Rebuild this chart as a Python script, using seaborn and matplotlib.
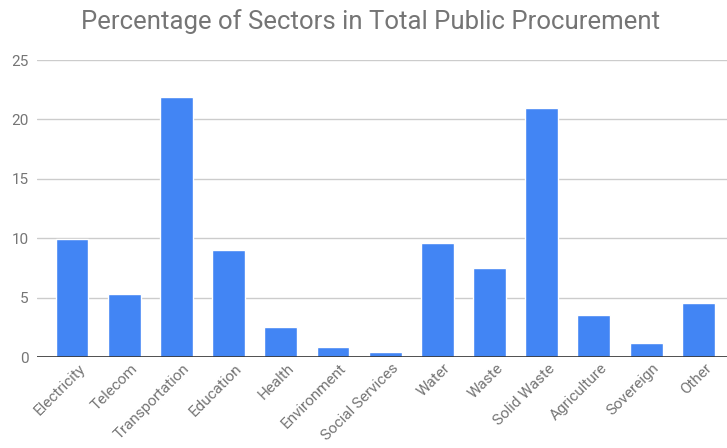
import matplotlib
matplotlib.use("Agg")
import matplotlib.pyplot as plt
import matplotlib.transforms as mtransforms
import seaborn as sns
import pandas as pd

sectors = ["Electricity", "Telecom", "Transportation", "Education", "Health",
           "Environment", "Social Services", "Water", "Waste", "Solid Waste",
           "Agriculture", "Sovereign", "Other"]
shares = [9.9, 5.3, 21.9, 9.0, 2.5, 0.87, 0.42, 9.6, 7.5, 21.0, 3.56, 1.15, 4.57]
y_ticks = [0, 5, 10, 15, 20, 25]

df = pd.DataFrame({"sector": sectors, "share": shares})

sns.set_theme(style="white")
plt.rcParams["font.family"] = ["Roboto", "DejaVu Sans"]

fig = plt.figure(figsize=(7.27, 4.48), dpi=100)
ax = fig.add_axes([0.051, 0.203, 0.949, 0.663])

sns.barplot(data=df, x="sector", y="share", color="#4285F4", saturation=1,
            width=0.63, ax=ax, zorder=3)

ax.set_ylim(0, 25)
ax.set_xlim(-0.67, 12.55)
ax.set_yticks(y_ticks)
ax.set_yticklabels([str(t) for t in y_ticks], color="#757575", fontsize=11)
ax.yaxis.grid(True, color="#cccccc", linewidth=1, zorder=0)
ax.set_axisbelow(True)
ax.tick_params(axis="y", length=0, pad=6)
ax.tick_params(axis="x", length=0, pad=3)
ax.axhline(0, color="#333333", linewidth=1.2, zorder=4)

# nudge the rotated category labels so their ends sit just right of each bar's centre
shift = mtransforms.ScaledTranslation(6 / 100, 0, fig.dpi_scale_trans)
for lbl in ax.get_xticklabels():
    lbl.set_rotation(45)
    lbl.set_ha("right")
    lbl.set_rotation_mode("anchor")
    lbl.set_color("#757575")
    lbl.set_fontsize(11)
    lbl.set_transform(lbl.get_transform() + shift)

for s in ax.spines.values():
    s.set_visible(False)
ax.set_xlabel("")
ax.set_ylabel("")

fig.text(0.51, 0.952, "Percentage of Sectors in Total Public Procurement",
         ha="center", va="center", color="#757575", fontsize=18.5)

fig.savefig("out.png", dpi=100, facecolor="white")
